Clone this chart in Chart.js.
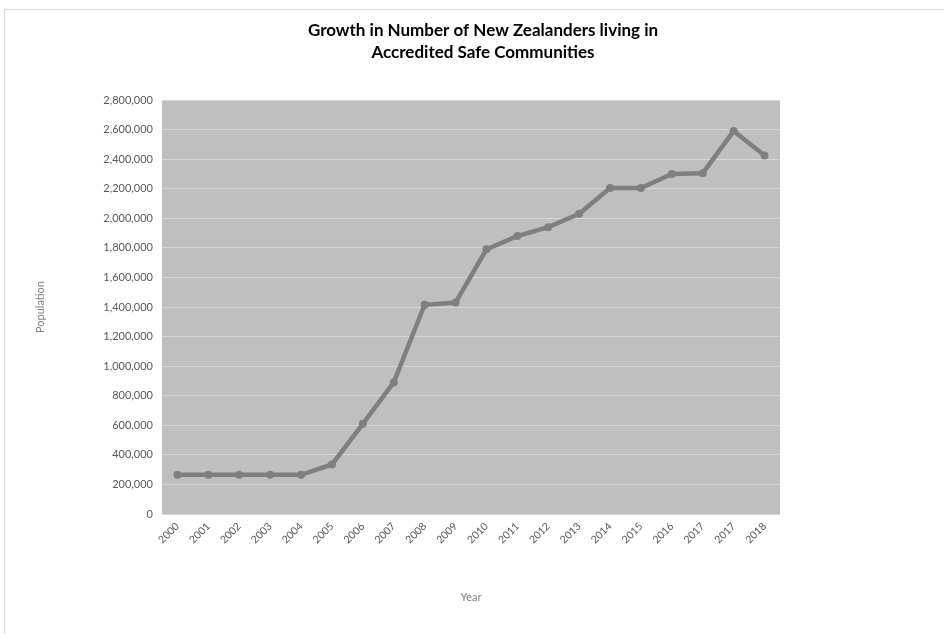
<!DOCTYPE html>
<html>
<head>
<meta charset="utf-8">
<script src="https://cdn.jsdelivr.net/npm/chart.js@4.4.1/dist/chart.umd.min.js"></script>
<style>
  html, body { margin: 0; padding: 0; background: #fff; overflow: hidden; }
  #wrap { position: relative; width: 944px; height: 634px; }
  #frame { position: absolute; left: 4px; top: 9px; width: 980px; height: 700px; border: 1px solid #d9d9d9; box-sizing: border-box; }
  canvas { position: absolute; left: 0; top: 0; }
</style>
</head>
<body>
<div id="wrap">
  <div id="frame"></div>
  <canvas id="chart" width="944" height="634"></canvas>
</div>
<script>
// dados
const years = ['2000','2001','2002','2003','2004','2005','2006','2007','2008','2009',
               '2010','2011','2012','2013','2014','2015','2016','2017','2017','2018'];
const population = [265000, 265000, 265000, 265000, 265000, 335000, 610000, 890000, 1415000, 1430000,
                    1790000, 1880000, 1940000, 2030000, 2205000, 2205000, 2300000, 2305000, 2590000, 2425000];
const titleLines = ['Growth in Number of New Zealanders living in', 'Accredited Safe Communities'];

const FONT = 'Lato, "Open Sans", sans-serif';

// fundo cinza da área do gráfico
const plotBg = {
  id: 'plotBg',
  beforeDraw(chart) {
    const { ctx, chartArea: a } = chart;
    ctx.save();
    ctx.fillStyle = '#bfbfbf';
    ctx.fillRect(a.left, a.top, a.right - a.left, a.bottom - a.top);
    ctx.restore();
  }
};

// título centrado no quadro inteiro (não só na área útil)
const frameTitle = {
  id: 'frameTitle',
  afterDraw(chart) {
    const { ctx } = chart;
    ctx.save();
    ctx.fillStyle = '#000';
    ctx.font = 'bold 17px ' + FONT;
    ctx.textAlign = 'center';
    ctx.textBaseline = 'middle';
    titleLines.forEach((t, i) => ctx.fillText(t, 483, 31 + i * 22));
    ctx.restore();
  }
};

new Chart(document.getElementById('chart').getContext('2d'), {
  type: 'line',
  data: {
    labels: years,
    datasets: [{
      data: population,
      borderColor: '#7f7f7f',
      backgroundColor: '#7f7f7f',
      borderWidth: 4.5,
      pointRadius: 4,
      pointBackgroundColor: '#7f7f7f',
      pointBorderWidth: 0,
      tension: 0
    }]
  },
  options: {
    responsive: false,
    animation: false,
    layout: { padding: { left: 34, right: 164, top: 100, bottom: 30 } },
    plugins: {
      legend: { display: false },
      tooltip: { enabled: false },
      title: { display: false }
    },
    scales: {
      x: {
        offset: true,
        grid: { display: false, drawTicks: false },
        border: { display: false },
        ticks: {
          color: '#595959', font: { family: FONT, size: 10.5 },
          minRotation: 45, maxRotation: 45, autoSkip: false, padding: 6
        },
        title: {
          display: true, text: 'Year', color: '#808080',
          font: { family: FONT, size: 11 }, padding: { top: 0, bottom: 0 }
        },
        afterFit(s) { s.height = 90; }
      },
      y: {
        min: 0, max: 2800000,
        grid: { color: '#d6d6d6', lineWidth: 1, drawTicks: false },
        border: { display: false },
        ticks: {
          stepSize: 200000, color: '#595959', font: { family: FONT, size: 11 }, padding: 9,
          callback: v => v.toLocaleString('en-US')
        },
        title: {
          display: true, text: 'Population', color: '#808080',
          font: { family: FONT, size: 11 }, padding: 0
        },
        afterFit(s) { s.width = 128; }
      }
    }
  },
  plugins: [plotBg, frameTitle]
});
</script>
</body>
</html>
